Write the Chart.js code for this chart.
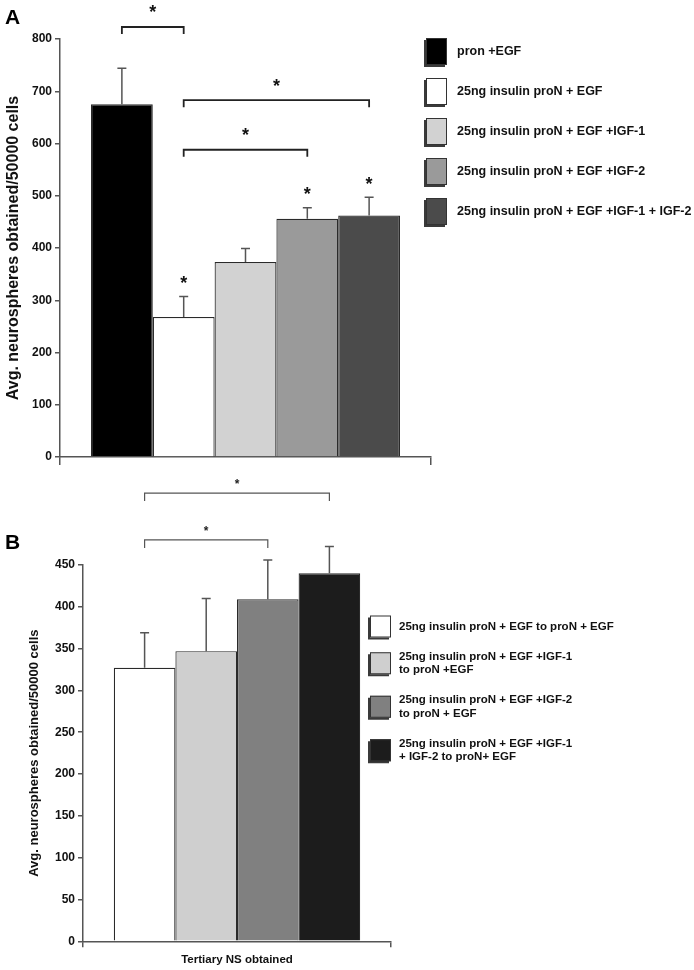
<!DOCTYPE html>
<html><head><meta charset="utf-8">
<script src="https://cdn.jsdelivr.net/npm/chart.js@4.4.1/dist/chart.umd.min.js"></script>
<style>
html,body{margin:0;padding:0;background:#fff;}
#wrap{position:relative;width:694px;height:970px;overflow:hidden;}
canvas{position:absolute;left:0;}
#chartA{top:0;}
#chartB{top:470px;}
</style></head><body>
<div id="wrap">
<canvas id="chartA" width="694" height="470"></canvas>
<canvas id="chartB" width="694" height="500"></canvas>
</div>
<script>
// ---------- Panel A data ----------
const categoriesA = [''];
const seriesA = ['pron +EGF', '25ng insulin proN + EGF', '25ng insulin proN + EGF +IGF-1', '25ng insulin proN + EGF +IGF-2', '25ng insulin proN + EGF +IGF-1 + IGF-2'];
const valuesA = [675, 268, 373, 456, 462];
const errorsA = [69, 39, 26, 21, 35];
const starsA = [false, true, false, true, true];
const bracketsA = [[0, 1, 823], [1, 4, 683], [1, 3, 588]];
const ticksA = [0, 100, 200, 300, 400, 500, 600, 700, 800];
const colorsA = ['#000000', '#ffffff', '#d2d2d2', '#9a9a9a', '#4b4b4b'];
const yTitleA = 'Avg. neurospheres obtained/50000 cells';

// ---------- Panel B data ----------
const categoriesB = ['Tertiary NS obtained'];
const seriesB = [
  ['25ng insulin proN + EGF to proN + EGF'],
  ['25ng insulin proN + EGF +IGF-1', 'to proN +EGF'],
  ['25ng insulin proN + EGF +IGF-2', 'to proN + EGF'],
  ['25ng insulin proN + EGF +IGF-1', '+ IGF-2 to proN+ EGF']
];
const valuesB = [327, 347, 409, 440];
const errorsB = [42, 63, 47, 32];
const bracketsB = [[0, 3, 536], [0, 2, 480]];
const ticksB = [0, 50, 100, 150, 200, 250, 300, 350, 400, 450];
const colorsB = ['#ffffff', '#cfcfcf', '#808080', '#1c1c1c'];
const yTitleB = 'Avg. neurospheres obtained/50000 cells';

const FONT = "'Liberation Sans', Arial, Helvetica, sans-serif";
const AXIS = '#555555';

function drawStar(ctx, x, cy, size, color) {
  ctx.save();
  ctx.fillStyle = color || '#111';
  ctx.font = 'bold ' + size + 'px ' + FONT;
  ctx.textAlign = 'center';
  ctx.textBaseline = 'alphabetic';
  ctx.fillText('*', x, cy + size * 0.58);
  ctx.restore();
}

function annotPlugin(cfg) {
  return {
    id: 'annot' + cfg.key,
    afterDatasetsDraw(chart) {
      const ctx = chart.ctx, y = chart.scales.y;
      ctx.save();
      cfg.values.forEach((v, i) => {
        const bar = chart.getDatasetMeta(i).data[0];
        const yTop = y.getPixelForValue(v + cfg.errors[i]);
        const yMean = y.getPixelForValue(v);
        ctx.strokeStyle = cfg.errColor;
        ctx.lineWidth = 1.5;
        ctx.beginPath();
        ctx.moveTo(bar.x, yMean); ctx.lineTo(bar.x, yTop);
        ctx.moveTo(bar.x - cfg.cap / 2, yTop); ctx.lineTo(bar.x + cfg.cap / 2, yTop);
        ctx.stroke();
        if (cfg.stars && cfg.stars[i]) drawStar(ctx, bar.x, yTop - cfg.starGap, cfg.starSize);
      });
      cfg.brackets.forEach(([a, b, lvl]) => {
        const xa = chart.getDatasetMeta(a).data[0].x;
        const xb = chart.getDatasetMeta(b).data[0].x;
        const yy = y.getPixelForValue(lvl);
        ctx.strokeStyle = cfg.bracketColor;
        ctx.lineWidth = cfg.bracketWidth;
        ctx.beginPath();
        ctx.moveTo(xa, yy + cfg.bracketTick); ctx.lineTo(xa, yy);
        ctx.lineTo(xb, yy); ctx.lineTo(xb, yy + cfg.bracketTick);
        ctx.stroke();
        drawStar(ctx, (xa + xb) / 2, yy - cfg.bStarGap, cfg.bStarSize, cfg.bStarColor);
      });
      ctx.restore();
    },
    afterDraw(chart) {
      const ctx = chart.ctx;
      ctx.save();
      // panel letter
      ctx.fillStyle = '#000';
      ctx.font = 'bold 21px ' + FONT;
      ctx.textBaseline = 'alphabetic';
      ctx.textAlign = 'left';
      ctx.fillText(cfg.letter, cfg.letterX, cfg.letterY);
      // legend
      const L = cfg.legend;
      let cy = L.firstCenter;
      chart.data.datasets.forEach((ds, i) => {
        const lines = Array.isArray(ds.label) ? ds.label : [ds.label];
        if (i > 0) {
          const prev = chart.data.datasets[i - 1].label;
          const pl = Array.isArray(prev) ? prev.length : 1;
          cy += L.lineH * (pl + lines.length) / 2 + L.gap;
        }
        const top = cy - L.boxH / 2;
        ctx.fillStyle = '#3a3a3a';
        ctx.fillRect(L.x - 2, top + 2, L.boxW, L.boxH);
        ctx.fillStyle = ds.backgroundColor;
        ctx.fillRect(L.x, top, L.boxW, L.boxH);
        ctx.strokeStyle = '#333';
        ctx.lineWidth = 1;
        ctx.strokeRect(L.x + 0.5, top + 0.5, L.boxW - 1, L.boxH - 1);
        ctx.fillStyle = '#111';
        ctx.font = 'bold ' + L.fontSize + 'px ' + FONT;
        ctx.textBaseline = 'middle';
        ctx.textAlign = 'left';
        const start = cy - L.lineH * (lines.length - 1) / 2;
        lines.forEach((t, k) => ctx.fillText(t, L.textX, start + k * L.lineH));
      });
      ctx.restore();
    }
  };
}

function makeChart(id, o) {
  return new Chart(document.getElementById(id), {
    type: 'bar',
    data: {
      labels: o.categories,
      datasets: o.series.map((s, i) => ({
        label: s,
        data: [o.values[i]],
        backgroundColor: o.colors[i],
        borderColor: '#2a2a2a',
        borderWidth: 1.2,
        categoryPercentage: o.catPct,
        barPercentage: 1.0
      }))
    },
    options: {
      responsive: false,
      animation: false,
      devicePixelRatio: 1,
      layout: { padding: o.padding },
      plugins: { legend: { display: false }, tooltip: { enabled: false } },
      scales: {
        x: {
          type: 'category',
          offset: true,
          grid: { display: true, offset: true, drawOnChartArea: false, drawTicks: true, tickLength: o.xTickLen, color: AXIS, lineWidth: 1.5 },
          border: { display: true, color: AXIS, width: 1.5 },
          ticks: { color: '#111', padding: 6, font: { family: FONT, weight: 'bold', size: 11.5 } },
          afterFit: s => { s.height = o.xHeight; }
        },
        y: {
          min: 0, max: o.ticks[o.ticks.length - 1],
          afterBuildTicks: s => { s.ticks = o.ticks.map(v => ({ value: v })); },
          grid: { display: true, drawOnChartArea: false, drawTicks: true, tickLength: 5, color: AXIS, lineWidth: 1.5 },
          border: { display: true, color: AXIS, width: 1.5 },
          ticks: { color: '#111', padding: 3, font: { family: FONT, weight: 'bold', size: 12 } },
          title: { display: true, text: o.yTitle, color: '#111', font: { family: FONT, weight: 'bold', size: o.yTitleSize }, padding: { top: o.yTitlePad, bottom: 0 } },
          afterFit: s => { s.width = o.yWidth; }
        }
      }
    },
    plugins: [annotPlugin(o.annot)]
  });
}

makeChart('chartA', {
  categories: categoriesA, series: seriesA, values: valuesA, colors: colorsA, ticks: ticksA,
  catPct: 0.833, padding: { top: 39, left: 0, right: 263, bottom: 0 },
  xTickLen: 8, xHeight: 13, yWidth: 60, yTitle: yTitleA, yTitleSize: 16, yTitlePad: 4,
  annot: {
    key: 'A', values: valuesA, errors: errorsA, stars: starsA, brackets: bracketsA,
    errColor: '#555', cap: 9, starGap: 18, starSize: 18,
    bracketColor: '#222', bracketWidth: 1.8, bracketTick: 7, bStarGap: 19, bStarSize: 18, bStarColor: '#111',
    letter: 'A', letterX: 5, letterY: 24,
    legend: { x: 426, textX: 457, boxW: 21, boxH: 27, firstCenter: 51.5, lineH: 14, gap: 26, fontSize: 12.5 }
  }
});

makeChart('chartB', {
  categories: categoriesB, series: seriesB, values: valuesB, colors: colorsB, ticks: ticksB,
  catPct: 0.8, padding: { top: 95, left: 0, right: 303, bottom: 0 },
  xTickLen: 6, xHeight: 28.7, yWidth: 83, yTitle: yTitleB, yTitleSize: 13, yTitlePad: 27,
  annot: {
    key: 'B', values: valuesB, errors: errorsB, stars: null, brackets: bracketsB,
    errColor: '#555', cap: 9, starGap: 14, starSize: 13,
    bracketColor: '#555', bracketWidth: 1.2, bracketTick: 8, bStarGap: 12, bStarSize: 12, bStarColor: '#222',
    letter: 'B', letterX: 5, letterY: 79,
    legend: { x: 370, textX: 399, boxW: 21, boxH: 22, firstCenter: 156.5, lineH: 13.5, gap: 16.5, fontSize: 11.5 }
  }
});
</script>
</body></html>
